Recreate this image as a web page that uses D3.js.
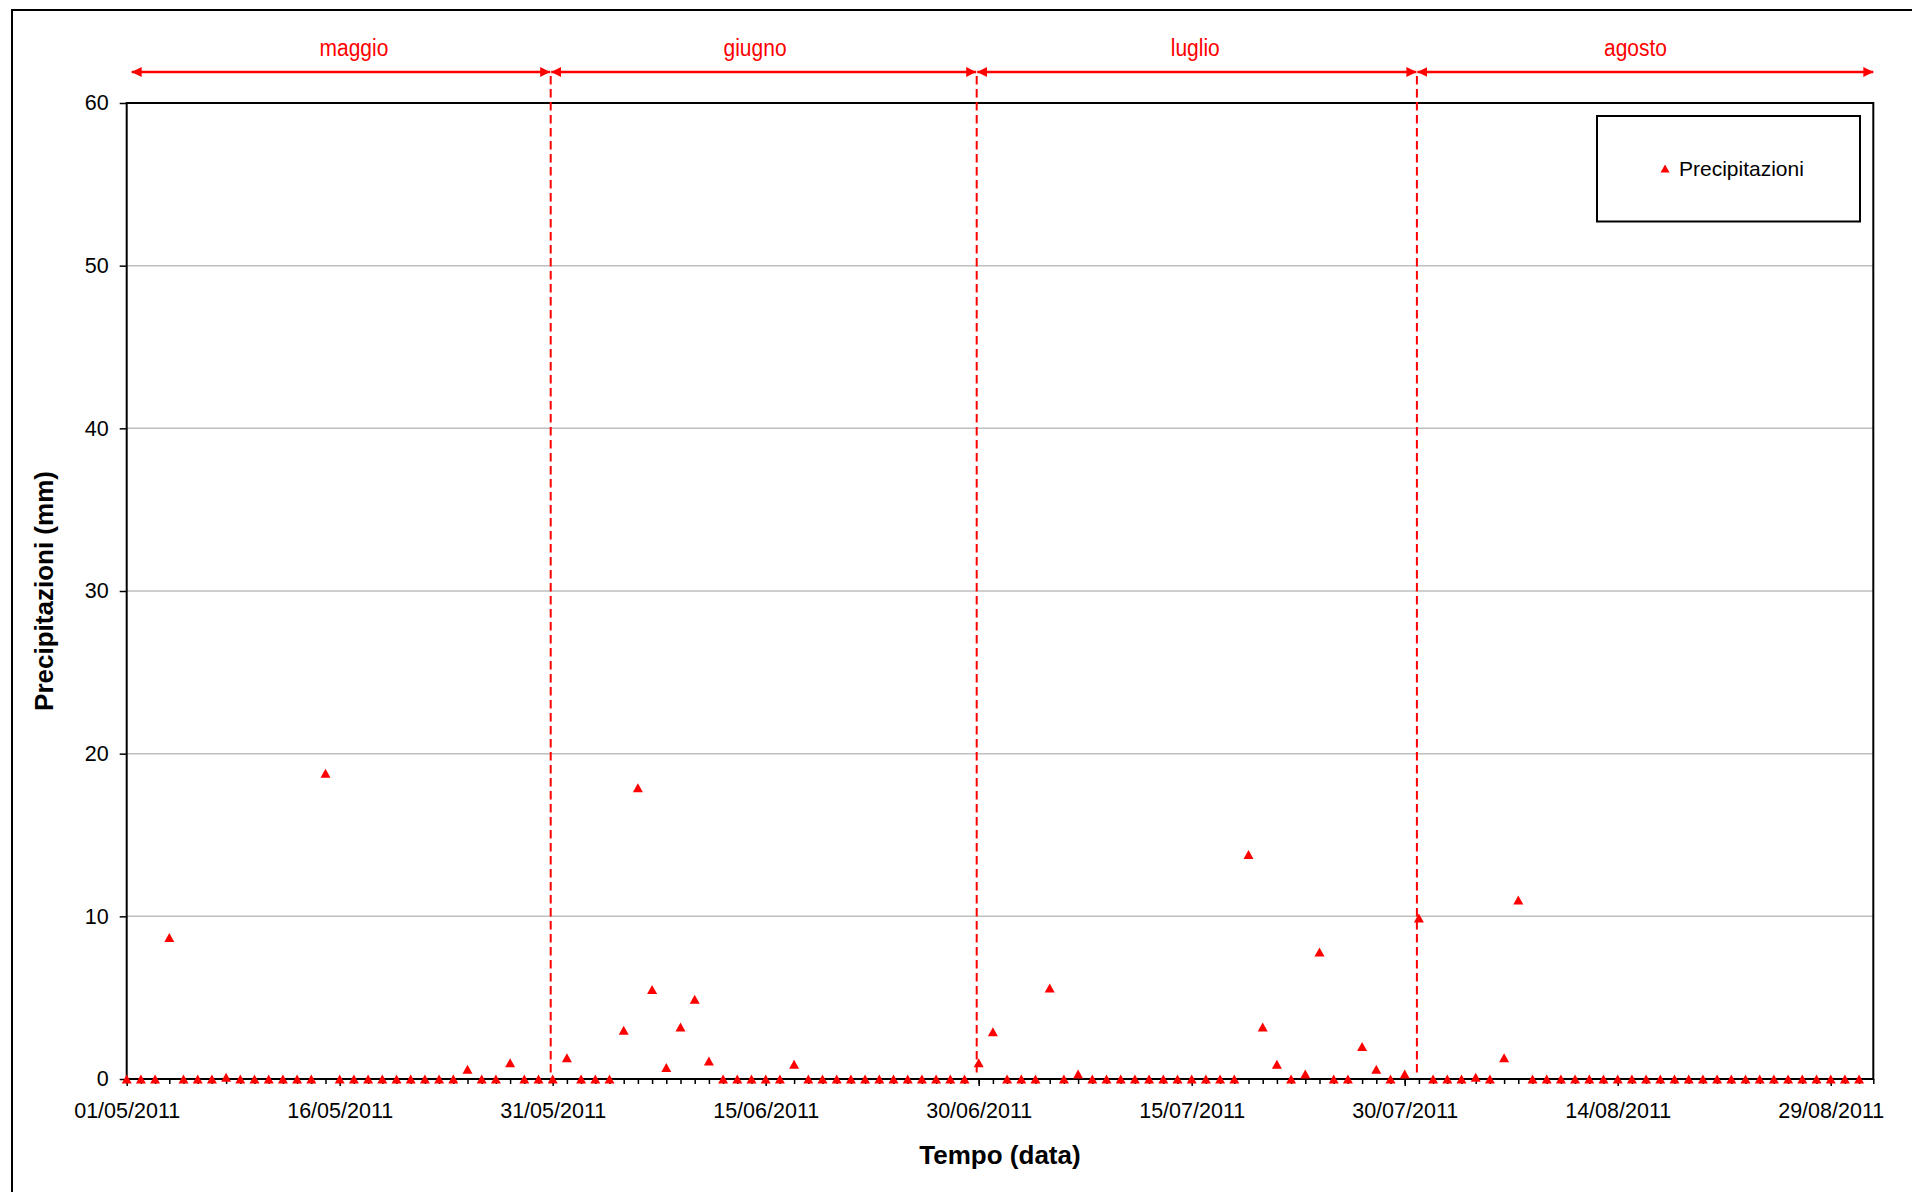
<!DOCTYPE html>
<html>
<head>
<meta charset="utf-8">
<script src="https://cdn.jsdelivr.net/npm/d3@7"></script>
<style>
  body { margin: 0; background: #fff; }
  svg { display: block; }
  text { font-family: "Liberation Sans", Arial, sans-serif; }
</style>
</head>
<body>
<svg id="chart" width="1912" height="1192"></svg>
<script>
// ---------------- data ----------------
const startDate = "2011-05-01";
const axisEndDate = "2011-09-01";
const mayValues    = [0,0,0,8.7,0,0,0,0.1,0,0,0,0,0,0,18.8,0,0,0,0,0,0,0,0,0,0.6,0,0,1.0,0,0,0];
const juneValues   = [1.3,0,0,0,3.0,17.9,5.5,0.7,3.2,4.9,1.1,0,0,0,0,0,0.9,0,0,0,0,0,0,0,0,0,0,0,0,1.0];
const julyValues   = [2.9,0,0,0,5.6,0,0.3,0,0,0,0,0,0,0,0,0,0,0,13.8,3.2,0.9,0,0.3,7.8,0,0,2.0,0.6,0,0.3,9.9];
const augustValues = [0,0,0,0.1,0,1.3,11.0,0,0,0,0,0,0,0,0,0,0,0,0,0,0,0,0,0,0,0,0,0,0,0,0];
const monthNames = ["maggio", "giugno", "luglio", "agosto"];
const monthBounds = ["2011-05-01", "2011-05-31", "2011-06-30", "2011-07-31", "2011-09-01"];
const monthLabelDates = ["2011-05-17T00:00Z", "2011-06-14T06:00Z", "2011-07-15T06:00Z", "2011-08-15T06:00Z"];
const tickLabels = ["01/05/2011","16/05/2011","31/05/2011","15/06/2011","30/06/2011","15/07/2011","30/07/2011","14/08/2011","29/08/2011"];
const yTicks = [0, 10, 20, 30, 40, 50, 60];
const seriesName = "Precipitazioni";
const xTitle = "Tempo (data)";
const yTitle = "Precipitazioni (mm)";

// ---------------- build ----------------
const parseISO = d3.utcParse("%Y-%m-%d");
const parseLabel = d3.utcParse("%d/%m/%Y");
const fmt = d3.utcFormat("%d/%m/%Y");
const allValues = [...mayValues, ...juneValues, ...julyValues, ...augustValues];
const t0 = parseISO(startDate);
const points = allValues.map((v, i) => ({ date: d3.utcDay.offset(t0, i), value: v }));

const W = 1912, H = 1192;
const plot = { left: 126.7, right: 1873.3, top: 103, bottom: 1079 };
const RED = "#ff0000";

const svg = d3.select("#chart");

const x = d3.scaleUtc()
  .domain([t0, parseISO(axisEndDate)])
  .range([plot.left, plot.right]);
const y = d3.scaleLinear()
  .domain([0, 60])
  .range([plot.bottom, plot.top]);

// outer chart border
svg.append("rect")
  .attr("x", 12).attr("y", 10)
  .attr("width", W + 100).attr("height", H + 100)
  .attr("fill", "#fff").attr("stroke", "#000").attr("stroke-width", 2);

// gridlines
svg.append("g").selectAll("line")
  .data(yTicks.filter(t => t > 0 && t < 60))
  .join("line")
  .attr("x1", plot.left).attr("x2", plot.right)
  .attr("y1", d => y(d)).attr("y2", d => y(d))
  .attr("stroke", "#bfbfbf").attr("stroke-width", 1.5);

// minor x ticks (daily)
const minorAxis = d3.axisBottom(x)
  .tickValues(d3.utcDay.range(t0, d3.utcDay.offset(parseISO(axisEndDate), 1)))
  .tickSize(5).tickFormat("");
const gMinor = svg.append("g").attr("transform", `translate(0,${plot.bottom})`).call(minorAxis);
gMinor.select(".domain").remove();
gMinor.selectAll("line").attr("stroke", "#000").attr("stroke-width", 1.5);

// major x ticks with labels
const xAxis = d3.axisBottom(x)
  .tickValues(tickLabels.map(parseLabel))
  .tickFormat(fmt)
  .tickSize(7).tickPadding(17);
const gx = svg.append("g").attr("transform", `translate(0,${plot.bottom})`).call(xAxis);
gx.select(".domain").remove();
gx.selectAll("line").attr("stroke", "#000").attr("stroke-width", 1.5);
gx.selectAll("text").attr("font-size", 21.5).attr("fill", "#000")
  .style("font-family", '"Liberation Sans", Arial, sans-serif');

// y axis
const yAxis = d3.axisLeft(y).tickValues(yTicks).tickSize(7).tickPadding(11);
const gy = svg.append("g").attr("transform", `translate(${plot.left},0)`).call(yAxis);
gy.select(".domain").remove();
gy.selectAll("line").attr("stroke", "#000").attr("stroke-width", 1.5);
gy.selectAll("text").attr("font-size", 21.5).attr("fill", "#000")
  .style("font-family", '"Liberation Sans", Arial, sans-serif');

// plot border
svg.append("rect")
  .attr("x", plot.left).attr("y", plot.top)
  .attr("width", plot.right - plot.left).attr("height", plot.bottom - plot.top)
  .attr("fill", "none").attr("stroke", "#000").attr("stroke-width", 2);

// month separators (dashed)
const bounds = monthBounds.map(parseISO);
svg.append("g").selectAll("line")
  .data(bounds.slice(1, -1))
  .join("line")
  .attr("x1", d => x(d) - 2).attr("x2", d => x(d) - 2)
  .attr("y1", 76).attr("y2", plot.bottom - 3)
  .attr("stroke", RED).attr("stroke-width", 2)
  .attr("stroke-dasharray", "8.5,4.5");

// arrow markers
const defs = svg.append("defs");
defs.append("marker")
  .attr("id", "ah").attr("markerUnits", "userSpaceOnUse")
  .attr("viewBox", "0 0 10 10").attr("refX", 10).attr("refY", 5)
  .attr("markerWidth", 10).attr("markerHeight", 10)
  .attr("orient", "auto-start-reverse")
  .append("path").attr("d", "M0,0 L10,5 L0,10 Z").attr("fill", RED);

const spans = monthNames.map((name, i) => ({
  name,
  a: i === 0 ? x(bounds[i]) + 5 : x(bounds[i]) - 1.5,
  b: x(bounds[i + 1]) - (i === monthNames.length - 1 ? 0 : 2.5),
  label: x(d3.isoParse(monthLabelDates[i]))
}));

const gArr = svg.append("g");
gArr.selectAll("line")
  .data(spans)
  .join("line")
  .attr("x1", d => d.a).attr("x2", d => d.b)
  .attr("y1", 72).attr("y2", 72)
  .attr("stroke", RED).attr("stroke-width", 2.5)
  .attr("marker-start", "url(#ah)").attr("marker-end", "url(#ah)");
gArr.selectAll("text")
  .data(spans)
  .join("text")
  .attr("transform", d => `translate(${d.label},56) scale(1,1.15)`)
  .attr("text-anchor", "middle")
  .attr("font-size", 21).attr("fill", RED)
  .text(d => d.name);

// triangle marker
function tri(cx, cy, w, h) {
  return `M${cx},${cy - h / 2}L${cx + w / 2},${cy + h / 2}L${cx - w / 2},${cy + h / 2}Z`;
}

// points
svg.append("g").selectAll("path")
  .data(points)
  .join("path")
  .attr("d", d => tri(x(d.date), y(d.value), 10, 9))
  .attr("fill", RED);

// legend
const lg = svg.append("g");
lg.append("rect")
  .attr("x", 1597).attr("y", 116).attr("width", 263).attr("height", 105.5)
  .attr("fill", "#fff").attr("stroke", "#000").attr("stroke-width", 2);
lg.append("path").attr("d", tri(1665, 168.5, 9, 8)).attr("fill", RED);
lg.append("text")
  .attr("x", 1679).attr("y", 176)
  .attr("font-size", 21).attr("fill", "#000")
  .text(seriesName);

// axis titles
svg.append("text")
  .attr("x", (plot.left + plot.right) / 2).attr("y", 1164)
  .attr("text-anchor", "middle")
  .attr("font-size", 26).attr("font-weight", "bold").attr("fill", "#000")
  .text(xTitle);
svg.append("text")
  .attr("transform", `translate(53,${(plot.top + plot.bottom) / 2}) rotate(-90)`)
  .attr("text-anchor", "middle")
  .attr("font-size", 26).attr("font-weight", "bold").attr("fill", "#000")
  .text(yTitle);
</script>
</body>
</html>
